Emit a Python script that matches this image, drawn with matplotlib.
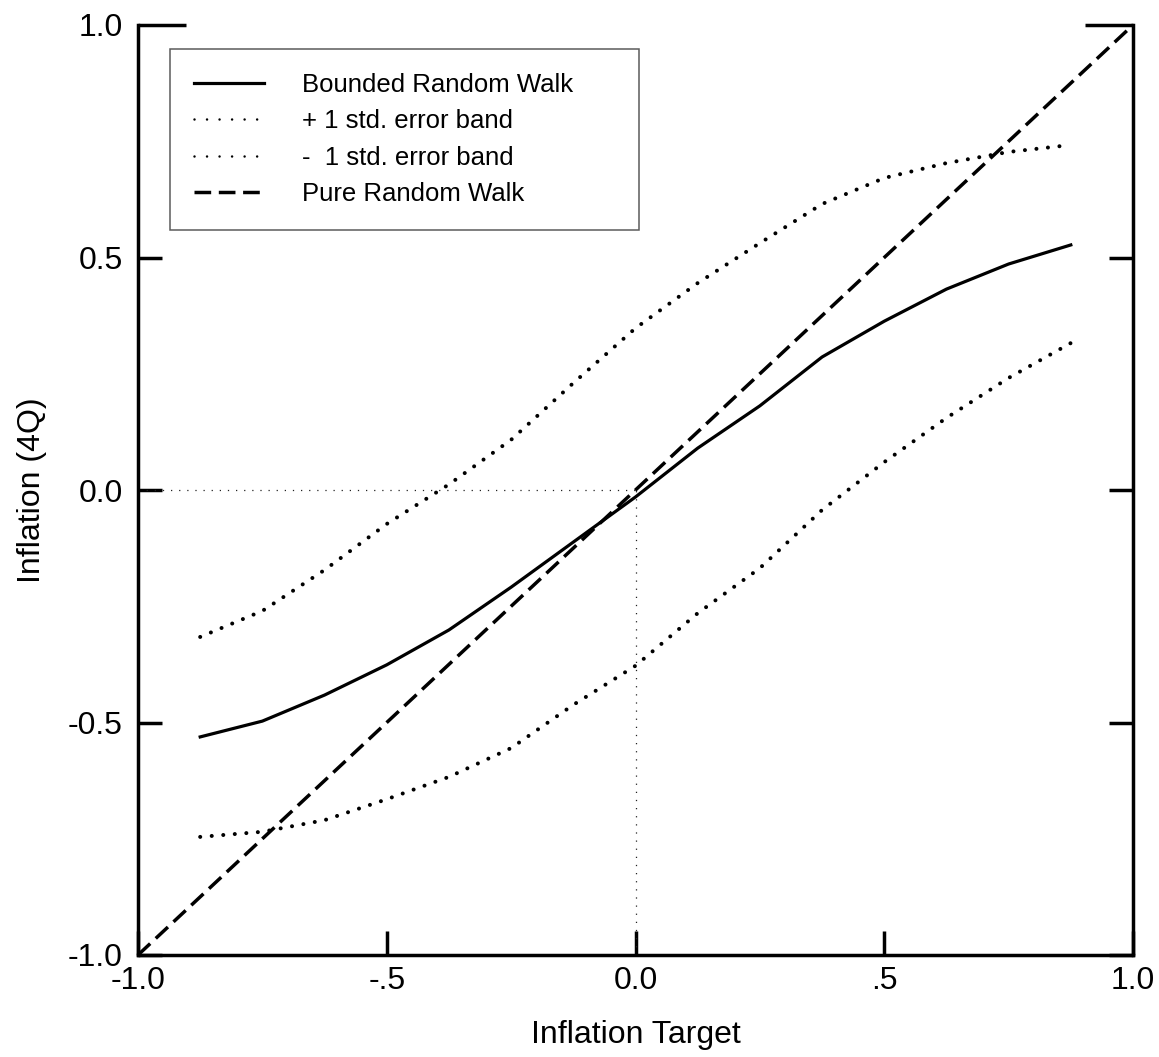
import matplotlib
matplotlib.use("Agg")
import matplotlib.pyplot as plt

plt.rcParams['font.family'] = ['Liberation Sans', 'DejaVu Sans']

# ---- data ----
target = [-0.875, -0.75, -0.625, -0.5, -0.375, -0.25, -0.125, 0.0,
          0.125, 0.25, 0.375, 0.5, 0.625, 0.75, 0.875]
bounded = [-0.531, -0.497, -0.441, -0.376, -0.301, -0.209, -0.112, -0.015,
           0.090, 0.181, 0.286, 0.363, 0.432, 0.486, 0.527]
upper_band = [-0.316, -0.260, -0.172, -0.073, 0.012, 0.108, 0.230, 0.348,
              0.445, 0.531, 0.615, 0.671, 0.703, 0.727, 0.742]
lower_band = [-0.746, -0.735, -0.710, -0.665, -0.617, -0.555, -0.462, -0.378,
              -0.265, -0.168, -0.043, 0.060, 0.155, 0.241, 0.316]
pure_x = [-1.0, 1.0]
pure_y = [-1.0, 1.0]

x_ticks = [-1.0, -0.5, 0.0, 0.5, 1.0]
x_ticklabels = ["-1.0", "-.5", "0.0", ".5", "1.0"]
y_ticks = [-1.0, -0.5, 0.0, 0.5, 1.0]
y_ticklabels = ["-1.0", "-0.5", "0.0", "0.5", "1.0"]

labels = ["Bounded Random Walk", "+ 1 std. error band",
          "-  1 std. error band", "Pure Random Walk"]

# ---- figure ----
W, H = 1159, 1057
fig = plt.figure(figsize=(W / 100, H / 100), dpi=100)
ax = fig.add_axes([138 / W, 1 - 955 / H, (1133 - 138) / W, (955 - 25) / H])
ax.set_xlim(-1, 1)
ax.set_ylim(-1, 1)

# zero reference lines
ax.plot([-1, 0], [0, 0], color='#222222', lw=0.9, linestyle=(0, (1, 5.5)))
ax.plot([0, 0], [-1, 0], color='#222222', lw=0.9, linestyle=(0, (1, 5.5)))

lw = 2.3
dlw = 2.9
dot = (0, (0.01, 8.3 / dlw))
l1, = ax.plot(target, bounded, color='black', lw=lw, solid_joinstyle='round')
l2, = ax.plot(target, upper_band, color='black', lw=dlw, linestyle=dot,
              dash_capstyle='round')
l3, = ax.plot(target, lower_band, color='black', lw=dlw, linestyle=dot,
              dash_capstyle='round')
l4, = ax.plot(pure_x, pure_y, color='black', lw=2.5,
              linestyle=(0, (12 / 2.5, 5.5 / 2.5)), clip_on=False)

# spines
for s in ['left', 'right', 'bottom']:
    ax.spines[s].set_linewidth(2.5)
ax.spines['top'].set_visible(False)

ax.set_xticks(x_ticks)
ax.set_xticklabels(x_ticklabels)
ax.set_yticks(y_ticks)
ax.set_yticklabels(y_ticklabels)
ax.tick_params(axis='x', direction='in', length=17.5, width=2.5,
               labelsize=23, pad=8, top=False, bottom=True)
ax.tick_params(axis='y', direction='in', length=17.5, width=2.5,
               labelsize=23, pad=11, left=True, right=True)
yt = ax.yaxis.get_major_ticks()
yt[-1].tick1line.set_markersize(34.5)
yt[-1].tick2line.set_markersize(34.5)

ax.set_xlabel("Inflation Target", fontsize=23)
ax.xaxis.set_label_coords(0.5, -0.07)
ax.set_ylabel("Inflation (4Q)", fontsize=23)
ax.yaxis.set_label_coords(-0.091, 0.5)

x0 = (170 - 138) / 995
x1 = (639 - 138) / 995
ytop = (955 - 49) / 930
ybot = (955 - 234) / 930
leg = ax.legend([l1, l2, l3, l4], labels, loc='upper left',
                bbox_to_anchor=(x0, ybot, x1 - x0, ytop - ybot),
                mode='expand', borderaxespad=0, fontsize=18.5,
                handlelength=2.7, handletextpad=1.5, labelspacing=0.47,
                borderpad=0.95, frameon=True, fancybox=False)
for h in leg.legend_handles[1:3]:
    h.set_linewidth(1.8)
    h.set_linestyle((0, (0.01, 9.0 / 1.8)))
    h.set_dash_capstyle('round')
frame = leg.get_frame()
frame.set_edgecolor('#333333')
frame.set_linewidth(1.1)

fig.savefig("out.png", dpi=100, facecolor='white')
